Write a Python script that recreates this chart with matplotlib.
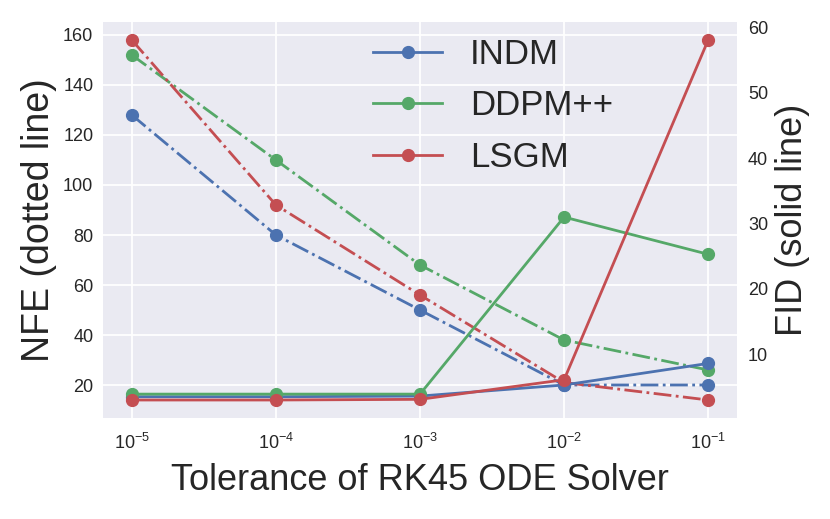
import matplotlib
matplotlib.use("Agg")
import matplotlib.pyplot as plt

tolerances = [1e-5, 1e-4, 1e-3, 1e-2, 1e-1]
models = ["INDM", "DDPM++", "LSGM"]
colors = ["#4C72B0", "#55A868", "#C44E52"]
nfe_indm = [128, 80, 50, 20, 20]
nfe_ddpm = [152, 110, 68, 38, 26]
nfe_lsgm = [158, 92, 56, 21, 14]
fid_indm = [3.5, 3.5, 3.6, 5.3, 8.6]
fid_ddpm = [3.9, 3.9, 3.9, 31.0, 25.3]
fid_lsgm = [3.0, 3.0, 3.1, 6.1, 58.1]
nfe = [nfe_indm, nfe_ddpm, nfe_lsgm]
fid = [fid_indm, fid_ddpm, fid_lsgm]
left_ticks = [20, 40, 60, 80, 100, 120, 140, 160]
right_ticks = [10, 20, 30, 40, 50, 60]

plt.rcParams.update({
    "font.family": ["Liberation Sans", "DejaVu Sans"],
    "mathtext.fontset": "custom",
    "mathtext.rm": "Liberation Sans",
    "mathtext.it": "Liberation Sans:italic",
    "mathtext.bf": "Liberation Sans:bold",
    "axes.facecolor": "#EAEAF2",
    "axes.edgecolor": "white",
    "grid.color": "white",
    "text.color": "#262626",
    "xtick.color": "#262626",
    "ytick.color": "#262626",
    "axes.labelcolor": "#262626",
})

fig = plt.figure(figsize=(8.3, 5.19), dpi=100)
ax = fig.add_axes([103 / 830, 1 - 418 / 519, 634 / 830, 396 / 519])
ax.set_axisbelow(True)
ax.grid(True, color="white", linewidth=1.3)
for s in ax.spines.values():
    s.set_visible(False)
ax.set_xscale("log")

ax2 = ax.twinx()
ax2.grid(False)
for s in ax2.spines.values():
    s.set_visible(False)

for i in range(3):
    ax.plot(tolerances, nfe[i], linestyle="-.", marker="o", color=colors[i],
            linewidth=2, markersize=8.5)
handles = []
for i in range(3):
    h, = ax2.plot(tolerances, fid[i], linestyle="-", marker="o", color=colors[i],
                  linewidth=2, markersize=8.5, label=models[i])
    handles.append(h)

ax.set_yticks(left_ticks)
ax2.set_yticks(right_ticks)
ax.set_xticks(tolerances)
ax.minorticks_off()
ax.tick_params(axis="y", length=0, labelsize=13, pad=7)
ax.tick_params(axis="x", length=0, labelsize=13, pad=11)
ax2.tick_params(axis="y", length=0, labelsize=13, pad=8)

ax.set_xlabel("Tolerance of RK45 ODE Solver", fontsize=26, labelpad=7)
ax.set_ylabel("NFE (dotted line)", fontsize=27, labelpad=4)
ax2.set_ylabel("FID (solid line)", fontsize=26, labelpad=5)

leg = ax2.legend(handles=handles, loc="upper left", bbox_to_anchor=(0.404, 0.995),
                 borderaxespad=0, frameon=False, fontsize=25, labelspacing=0.53)

fig.savefig("out.png", dpi=100)
